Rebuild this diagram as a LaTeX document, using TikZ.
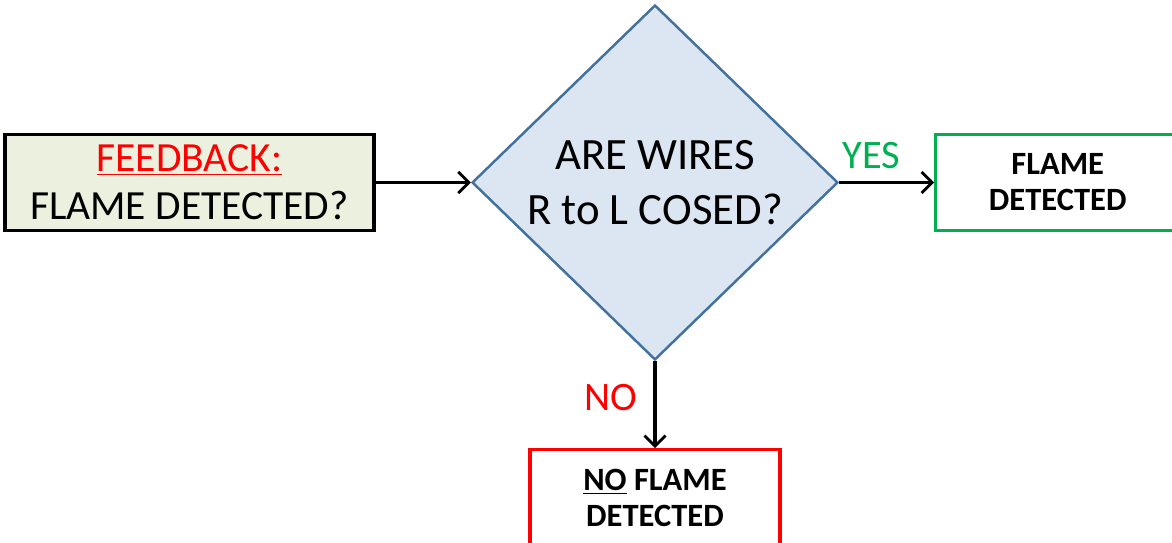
\documentclass[tikz,border=0pt]{standalone}
\usepackage{fontspec}
\setmainfont{Carlito}
\usepackage{tikz}
\usetikzlibrary{positioning}
\usetikzlibrary{shapes.geometric}
\usetikzlibrary{arrows.meta}
\definecolor{feedbackFill}{HTML}{EBF1DE}
\definecolor{decisionFill}{HTML}{DCE6F2}
\definecolor{decisionLine}{HTML}{41719C}
\definecolor{yesColor}{HTML}{00B050}
\definecolor{noColor}{HTML}{FF0000}
\tikzstyle{flowchart} = [x = 0.02cm, y = -0.02cm, node distance = 1.9cm]
\tikzstyle{feedbackStyle} = [draw=black, fill=feedbackFill, line width=2.2pt, minimum width=7.38cm, minimum height=1.92cm, align=center, inner sep=0pt, font=\fontsize{23.6}{27.3}\selectfont]
\tikzstyle{decisionStyle} = [diamond, draw=decisionLine, fill=decisionFill, line width=1.4pt, minimum width=7.32cm, minimum height=7.1cm, inner sep=0pt, align=center, font=\fontsize{25.5}{31}\selectfont]
\tikzstyle{resultStyle} = [draw, fill=white, line width=1.8pt, minimum height=1.92cm, align=center, inner sep=0pt, font=\bfseries\fontsize{18.5}{20.5}\selectfont]
\tikzstyle{flowArrow} = [-{Straight Barb[length=6pt, width=12pt, line width=1.6pt]}, line width=2pt]
\tikzstyle{branchText} = [font=\fontsize{23}{25}\selectfont, inner sep=3pt]

\begin{document}
\begin{tikzpicture}[flowchart]
  \useasboundingbox (0,0) rectangle (1172,543);
  \node [decisionStyle] (question) at (655,182.5) {ARE WIRES\\R to L COSED?};
  \node [feedbackStyle, left = of question] (feedback) {\textcolor{noColor}{\underline{FEEDBACK:}}\\FLAME DETECTED?};
  \node [resultStyle, draw=yesColor, minimum width=4.88cm, right = of question] (flame) {FLAME\\DETECTED};
  \node [resultStyle, draw=noColor, minimum width=5cm, below = 1.74cm of question] (noFlame) {\underline{NO} FLAME\\DETECTED};
  % connectors
  \draw [flowArrow] (feedback) -- (question);
  \draw [flowArrow] (question) -- node [branchText, pos=0.34, above=4pt, text=yesColor] (yesLabel) {YES} (flame);
  \draw [flowArrow] (question) -- node [branchText, pos=0.42, left=6pt, text=noColor] (noLabel) {NO} (noFlame);
\end{tikzpicture}
\end{document}
